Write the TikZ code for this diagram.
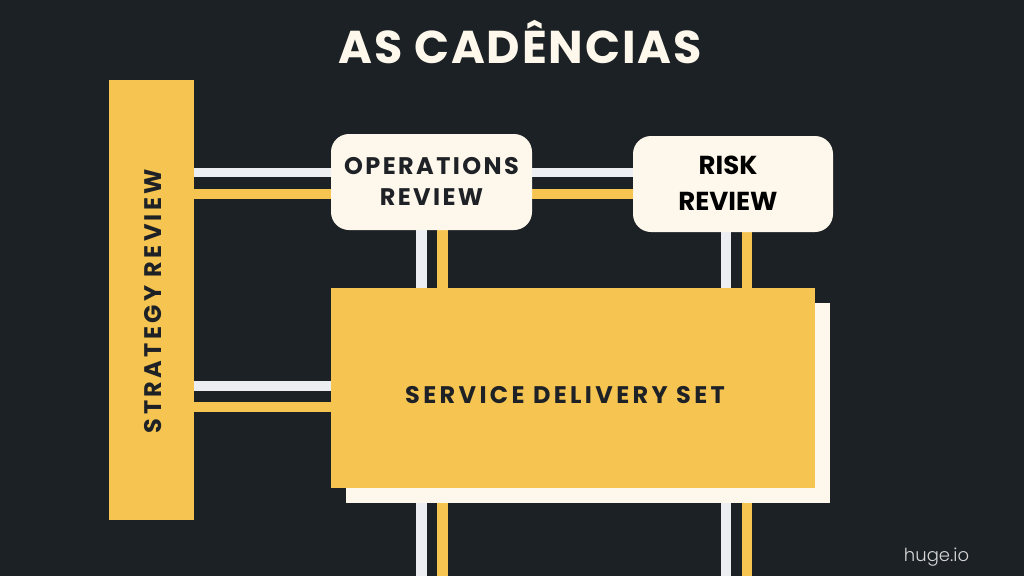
\documentclass[tikz,border=0pt]{standalone}
\usepackage{fontspec}
\setmainfont{Poppins}
\newfontfamily\titlefont{Poppins}[LetterSpace=4]
\newfontfamily\opsfont{Poppins}[LetterSpace=10]
\newfontfamily\stratfont{Poppins}[LetterSpace=14]
\newfontfamily\sdsfont{Poppins}[LetterSpace=14]
\newfontfamily\plainfont{Poppins}
\newfontfamily\thinfont{Poppins Light}
\definecolor{bgdark}{HTML}{1C2125}
\definecolor{ygold}{HTML}{F5C451}
\definecolor{cream}{HTML}{FEF8EC}
\definecolor{linewhite}{HTML}{ECEEF1}
\definecolor{inkdark}{HTML}{1E2226}
\definecolor{footgray}{HTML}{D6D6D6}
\pgfdeclarelayer{backdrop}
\pgfdeclarelayer{wires}
\pgfsetlayers{backdrop,wires,main}
\begin{document}
\begin{tikzpicture}[x=1pt,y=-1pt,
  ybox/.style={fill=ygold, draw=none, inner sep=0pt, rectangle},
  cbox/.style={fill=cream, draw=none, rounded corners=18pt, inner sep=0pt, rectangle},
  shadowbox/.style={fill=cream, draw=none, inner sep=0pt, rectangle},
  wline/.style={draw=linewhite, line width=10pt},
  yline/.style={draw=ygold, line width=10.5pt},
  lbl/.style={text=inkdark, align=center, inner sep=0pt}
]
\begin{pgfonlayer}{backdrop}
\fill[bgdark] (0,0) rectangle (1024,576);
\end{pgfonlayer}
\useasboundingbox (0,0) rectangle (1024,576);

% title
\node[text=cream, font=\titlefont\bfseries\fontsize{46}{50}\selectfont, anchor=base, inner sep=0pt] (title) at (520,63) {AS CADÊNCIAS};

% strategy bar
\node[ybox, minimum width=85pt, minimum height=440pt] (strat) at (151.5,300) {};
\node[lbl, rotate=90, font=\stratfont\bfseries\fontsize{24}{30}\selectfont] (stratlabel) at (153,301) {STRATEGY REVIEW};

% review boxes
\node[cbox, minimum width=201pt, minimum height=96pt] (ops) at (431.5,182) {};
\node[lbl, font=\opsfont\bfseries\fontsize{24}{31}\selectfont] (opslabel) at (431.5,181) {OPERATIONS\\REVIEW};
\node[cbox, minimum width=200pt, minimum height=96pt] (risk) at (733,184) {};
\node[text=black, font=\plainfont\bfseries\fontsize{26}{36}\selectfont, align=center, inner sep=0pt] (risklabel) at (728,183) {RISK\\REVIEW};

% service delivery set
\node[shadowbox, minimum width=484pt, minimum height=200pt] (shadow) at (588,403) {};
\node[ybox, minimum width=484pt, minimum height=200pt] (sds) at (573,388) {};
\node[lbl, font=\sdsfont\bfseries\fontsize{24}{30}\selectfont] (sdslabel) at (565,395) {SERVICE DELIVERY SET};

% bottom free ends
\coordinate (opsbw) at (421.5,576);
\coordinate (opsby) at (442.5,576);
\coordinate (riskbw) at (726,576);
\coordinate (riskby) at (747,576);

\begin{pgfonlayer}{wires}
% strategy -> operations
\draw[wline, line width=9pt] (strat.east |- 0,172.5) -- (ops.west |- 0,172.5);
\draw[yline, line width=10pt] (strat.east |- 0,194) -- (ops.west |- 0,194);
% operations -> risk
\draw[wline, line width=9pt] (ops.east |- 0,172.5) -- (risk.west |- 0,172.5);
\draw[yline, line width=10pt] (ops.east |- 0,194) -- (risk.west |- 0,194);
% strategy -> service delivery set
\draw[wline] (strat.east |- 0,386) -- (sds.west |- 0,386);
\draw[yline, line width=10pt] (strat.east |- 0,407) -- (sds.west |- 0,407);
% operations -> sds
\draw[wline, line width=11pt] (ops.south -| 421.5,0) -- (sds.north -| 421.5,0);
\draw[yline, line width=11pt] (ops.south -| 442.5,0) -- (sds.north -| 442.5,0);
% risk -> sds
\draw[wline, line width=10.5pt] (risk.south -| 726,0) -- (sds.north -| 726,0);
\draw[yline, line width=10.5pt] (risk.south -| 747,0) -- (sds.north -| 747,0);
% sds -> bottom
\draw[wline, line width=11pt] (shadow.south -| opsbw) -- (opsbw);
\draw[yline, line width=11pt] (shadow.south -| opsby) -- (opsby);
\draw[wline, line width=10.5pt] (shadow.south -| riskbw) -- (riskbw);
\draw[yline, line width=10.5pt] (shadow.south -| riskby) -- (riskby);
\end{pgfonlayer}

% footer
\node[text=footgray, font=\thinfont\fontsize{18}{22}\selectfont, anchor=base, inner sep=0pt] (footer) at (936.5,561) {huge.io};
\end{tikzpicture}
\end{document}
